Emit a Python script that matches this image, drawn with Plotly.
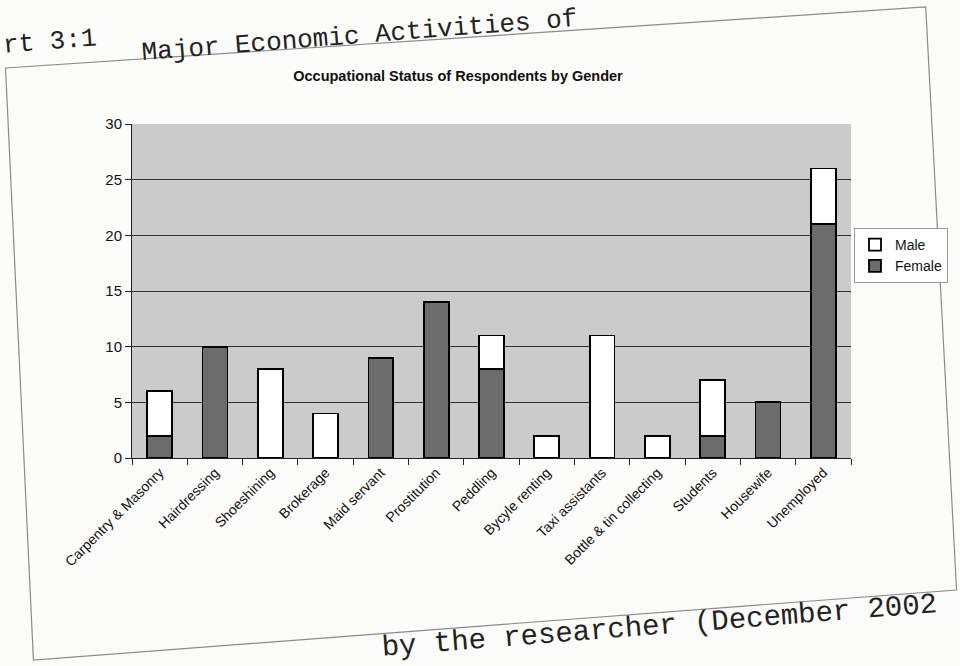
import plotly.graph_objects as go

categories = ["Carpentry & Masonry", "Hairdressing", "Shoeshining", "Brokerage",
              "Maid servant", "Prostitution", "Peddling", "Bycyle renting",
              "Taxi assistants", "Bottle & tin collecting", "Students",
              "Housewife", "Unemployed"]
female = [2, 10, 0, 0, 9, 14, 8, 0, 0, 0, 2, 5, 21]
male = [4, 0, 8, 4, 0, 0, 3, 2, 11, 2, 5, 0, 5]
y_ticks = [0, 5, 10, 15, 20, 25, 30]

W, H = 960, 666
L, R, T, B = 132, 854, 124, 458


def px(xp):
    return (xp - L) / (R - L)


def py(yp):
    return (B - yp) / (B - T)


fig = go.Figure()
fig.add_trace(go.Bar(x=categories, y=female, name="Female",
                     marker=dict(color="#6c6c6c", line=dict(color="black", width=1.8))))
fig.add_trace(go.Bar(x=categories, y=male, name="Male",
                     marker=dict(color="white", line=dict(color="black", width=1.8))))

# tilted outer frame of the scanned chart
frame = [(5, 68), (929, 7), (960, 590), (33, 660)]
path = "M " + " L ".join(f"{px(a):.4f},{py(b):.4f}" for a, b in frame) + " Z"
fig.add_shape(type="path", path=path, xref="paper", yref="paper",
              line=dict(color="#8a8a8a", width=1.2), layer="below")

mono = dict(family="Liberation Mono, Courier New, monospace", size=26, color="#222")
mono_b = dict(family="Liberation Mono, Courier New, monospace", size=29, color="#222")
fig.add_annotation(text="rt 3:1", x=px(50), y=py(42), xref="paper", yref="paper",
                   showarrow=False, textangle=-4.5, font=mono,
                   xanchor="center", yanchor="middle")
fig.add_annotation(text="Major Economic Activities of", x=px(360), y=py(36),
                   xref="paper", yref="paper", showarrow=False, textangle=-4.5,
                   font=mono, xanchor="center", yanchor="middle")
fig.add_annotation(text="by the researcher (December 2002", x=px(662), y=py(626),
                   xref="paper", yref="paper", showarrow=False, textangle=-4.5,
                   font=mono_b, xanchor="center", yanchor="middle")

fig.update_layout(
    width=W, height=H,
    margin=dict(l=L, r=W - R, t=T, b=H - B),
    barmode="stack",
    bargap=0.55,
    paper_bgcolor="#fbfbf9",
    plot_bgcolor="#cbcbcb",
    font=dict(family="Liberation Sans, Arial, sans-serif", color="#111"),
    title=dict(text="<b>Occupational Status of Respondents by Gender</b>",
               xref="container", x=458 / W, xanchor="center",
               yref="container", y=1 - 76 / H, yanchor="middle",
               font=dict(size=14.5, color="#111")),
    legend=dict(x=px(857), y=py(228), xanchor="left", yanchor="top",
                traceorder="reversed", bgcolor="white",
                bordercolor="#999", borderwidth=1,
                font=dict(size=14, color="#111"),
                itemwidth=30, tracegroupgap=2),
    showlegend=True,
)
fig.update_yaxes(range=[0, 30], tickvals=y_ticks, showgrid=True,
                 gridcolor="#2f2f2f", gridwidth=1, showline=True,
                 linecolor="#222", linewidth=1, ticks="outside", ticklen=6,
                 tickcolor="#222", tickfont=dict(size=15, color="#111"),
                 zeroline=False)
fig.update_xaxes(showline=True, linecolor="#222", linewidth=1, ticks="outside",
                 tickson="boundaries", ticklen=6, tickcolor="#222",
                 tickangle=-45, tickfont=dict(size=14, color="#111"))

fig.write_html("out.html")
